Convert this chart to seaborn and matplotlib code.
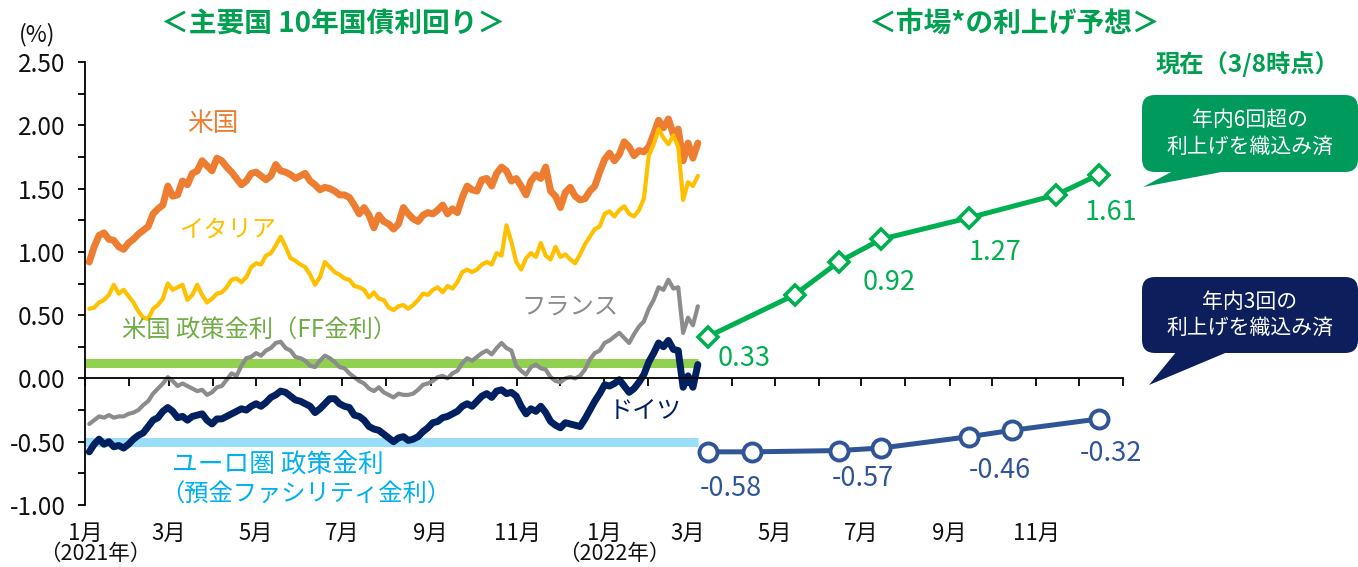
import numpy as np
import pandas as pd
import matplotlib
matplotlib.use("Agg")
import matplotlib.pyplot as plt
import matplotlib.dates as mdates
from matplotlib.ticker import MultipleLocator, FormatStrFormatter
from matplotlib.patches import FancyBboxPatch, Polygon
import seaborn as sns

sns.set_theme(style="white")
plt.rcParams['font.family'] = ['Noto Sans CJK JP', 'DejaVu Sans']

# ------------------------
# データ(2021/1/4 ～ 2022/3/8、ほぼ週2回)
start, end = "2021-01-04", "2022-03-08"

us_10y = [0.92, 1.04, 1.13, 1.15, 1.10, 1.09, 1.04, 1.02, 1.07,
          1.10, 1.14, 1.17, 1.20, 1.30, 1.34, 1.37, 1.52, 1.44,
          1.45, 1.56, 1.53, 1.62, 1.64, 1.72, 1.68, 1.64, 1.74,
          1.72, 1.67, 1.63, 1.58, 1.53, 1.56, 1.62, 1.63,
          1.60, 1.57, 1.60, 1.69, 1.64, 1.63, 1.61, 1.58, 1.60,
          1.62, 1.56, 1.53, 1.49, 1.51, 1.50, 1.48, 1.45,
          1.45, 1.43, 1.37, 1.30, 1.35, 1.29, 1.19, 1.29, 1.24,
          1.22, 1.18, 1.22, 1.35, 1.30, 1.26, 1.24, 1.29, 1.31,
          1.30, 1.33, 1.37, 1.30, 1.34, 1.31, 1.43, 1.52,
          1.49, 1.48, 1.57, 1.58, 1.52, 1.62, 1.67, 1.64, 1.56,
          1.58, 1.52, 1.45, 1.56, 1.61, 1.58, 1.67, 1.48,
          1.44, 1.35, 1.47, 1.51, 1.44, 1.41, 1.42, 1.48, 1.52,
          1.63, 1.73, 1.78, 1.72, 1.77, 1.87, 1.83, 1.76, 1.80,
          1.79, 1.83, 1.93, 2.04, 1.98, 2.05, 1.93, 1.97,
          1.72, 1.86, 1.74, 1.86]

it_10y = [0.55, 0.56, 0.60, 0.62, 0.66, 0.74, 0.67, 0.70, 0.65,
          0.60, 0.53, 0.48, 0.47, 0.55, 0.58, 0.63, 0.75, 0.70,
          0.72, 0.74, 0.62, 0.66, 0.74, 0.66, 0.60, 0.63, 0.67,
          0.68, 0.72, 0.78, 0.79, 0.76, 0.80, 0.88, 0.91,
          0.90, 0.97, 0.99, 1.05, 1.12, 1.04, 0.95, 0.93, 0.90,
          0.88, 0.82, 0.74, 0.80, 0.92, 0.88, 0.84, 0.82,
          0.79, 0.78, 0.73, 0.72, 0.70, 0.64, 0.68, 0.63, 0.62,
          0.56, 0.54, 0.57, 0.58, 0.55, 0.58, 0.62, 0.67, 0.66,
          0.70, 0.72, 0.68, 0.73, 0.71, 0.76, 0.84, 0.86,
          0.84, 0.86, 0.90, 0.92, 0.90, 0.99, 0.97, 1.21, 1.08,
          0.92, 0.86, 0.95, 0.99, 0.96, 1.07, 0.97, 0.94,
          1.04, 0.96, 0.98, 0.94, 0.91, 0.98, 1.06, 1.12, 1.18,
          1.20, 1.30, 1.32, 1.28, 1.33, 1.36, 1.30, 1.28, 1.33,
          1.42, 1.76, 1.85, 1.97, 1.90, 1.85, 1.92, 1.83,
          1.41, 1.55, 1.52, 1.60]

fr_10y = [-0.36, -0.33, -0.30, -0.31, -0.29, -0.31, -0.30, -0.30, -0.28,
          -0.27, -0.25, -0.21, -0.18, -0.12, -0.08, -0.04, 0.01, -0.02,
          -0.06, -0.04, -0.06, -0.08, -0.10, -0.09, -0.13, -0.11, -0.07,
          -0.06, -0.01, 0.04, 0.02, 0.10, 0.16, 0.17, 0.20,
          0.18, 0.22, 0.24, 0.28, 0.29, 0.24, 0.22, 0.17, 0.16,
          0.14, 0.10, 0.09, 0.14, 0.18, 0.16, 0.13, 0.09,
          0.08, 0.04, 0.01, -0.02, -0.04, -0.08, -0.10, -0.07, -0.11,
          -0.13, -0.15, -0.12, -0.13, -0.13, -0.12, -0.09, -0.05, -0.04,
          -0.02, 0.01, 0.02, 0.00, 0.04, 0.06, 0.12, 0.16,
          0.14, 0.17, 0.20, 0.22, 0.19, 0.24, 0.28, 0.24, 0.22,
          0.10, 0.06, 0.03, 0.09, 0.11, 0.08, 0.07, 0.01,
          -0.02, -0.03, 0.00, 0.01, 0.00, 0.02, 0.07, 0.15, 0.20,
          0.22, 0.28, 0.30, 0.33, 0.36, 0.32, 0.28, 0.35, 0.41,
          0.45, 0.55, 0.62, 0.72, 0.70, 0.78, 0.71, 0.72,
          0.36, 0.48, 0.42, 0.57]

de_10y = [-0.58, -0.52, -0.48, -0.52, -0.50, -0.54, -0.53, -0.55, -0.52,
          -0.48, -0.45, -0.43, -0.38, -0.33, -0.31, -0.26, -0.23, -0.26,
          -0.31, -0.30, -0.33, -0.30, -0.29, -0.28, -0.33, -0.36, -0.32,
          -0.32, -0.30, -0.28, -0.26, -0.24, -0.25, -0.22, -0.20,
          -0.22, -0.19, -0.15, -0.13, -0.10, -0.11, -0.14, -0.17, -0.18,
          -0.20, -0.22, -0.27, -0.24, -0.20, -0.16, -0.16, -0.20,
          -0.22, -0.23, -0.29, -0.30, -0.33, -0.38, -0.40, -0.41, -0.44,
          -0.47, -0.50, -0.47, -0.46, -0.49, -0.48, -0.46, -0.42, -0.39,
          -0.35, -0.34, -0.31, -0.30, -0.28, -0.26, -0.22, -0.20,
          -0.22, -0.18, -0.14, -0.12, -0.15, -0.10, -0.09, -0.12, -0.11,
          -0.14, -0.22, -0.28, -0.24, -0.26, -0.22, -0.27, -0.34,
          -0.37, -0.39, -0.35, -0.36, -0.37, -0.38, -0.32, -0.25, -0.18,
          -0.12, -0.05, -0.06, -0.04, -0.01, -0.06, -0.11, -0.08, -0.03,
          0.03, 0.13, 0.20, 0.28, 0.25, 0.30, 0.23, 0.22,
          -0.07, 0.02, -0.07, 0.11]

# 政策金利
policy_dates = ["2021-01-01", "2022-03-08"]
ff_rate = [0.125, 0.125]
ecb_rate = [-0.50, -0.50]

# 市場の利上げ予想(3/8時点)
fed_dates = ["2022-03-15", "2022-05-15", "2022-06-15", "2022-07-15",
             "2022-09-15", "2022-11-15", "2022-12-15"]
fed_path = [0.33, 0.66, 0.92, 1.10, 1.27, 1.45, 1.61]
ecb_dates = ["2022-03-15", "2022-04-15", "2022-06-15", "2022-07-15",
             "2022-09-15", "2022-10-15", "2022-12-15"]
ecb_path = [-0.58, -0.58, -0.57, -0.55, -0.46, -0.41, -0.32]

month_labels = ["1月", "3月", "5月", "7月", "9月", "11月"]

# ------------------------
W, H = 1358, 567
fig = plt.figure(figsize=(W / 100, H / 100), dpi=100)
ax = fig.add_axes([85 / W, (H - 505) / H, (1123 - 85) / W, (505 - 62) / H])


def draw_line(dates, vals, color, lw, **kws):
    d = pd.DataFrame({"date": pd.to_datetime(dates), "v": vals})
    sns.lineplot(data=d, x="date", y="v", ax=ax, color=color, linewidth=lw,
                 estimator=None, solid_joinstyle="round", **kws)


def yields(vals):
    return pd.date_range(start, end, periods=len(vals))


# 政策金利(太い帯)
draw_line(policy_dates, ff_rate, "#92D050", 6.5, solid_capstyle="butt")
draw_line(policy_dates, ecb_rate, "#9ADDF8", 6.5, solid_capstyle="butt")

# 10年国債利回り
draw_line(yields(fr_10y), fr_10y, "#8C8C8C", 3.0)
draw_line(yields(de_10y), de_10y, "#002060", 5.0)
draw_line(yields(us_10y), us_10y, "#ED7D31", 5.0)
draw_line(yields(it_10y), it_10y, "#FFC000", 3.0)

# 利上げ予想
draw_line(fed_dates, fed_path, "#00B050", 3.6, marker="D", markersize=10,
          markerfacecolor="white", markeredgecolor="#00B050", markeredgewidth=2.6)
draw_line(ecb_dates, ecb_path, "#2F5597", 3.6, marker="o", markersize=13,
          markerfacecolor="white", markeredgecolor="#2F5597", markeredgewidth=2.8)

# 数値ラベル
for i, dx, dy in [(0, 36, -22), (2, 51, -21), (4, 26, -35), (6, 12, -38)]:
    ax.annotate(f"{fed_path[i]:.2f}", (pd.Timestamp(fed_dates[i]), fed_path[i]),
                xytext=(dx, dy), textcoords="offset pixels", ha="center", va="center",
                fontsize=19.5, color="#00B050")
for i, dx, dy in [(0, 23, -37), (2, 24, -28), (4, 30, -34), (6, 12, -35)]:
    ax.annotate(f"{ecb_path[i]:.2f}", (pd.Timestamp(ecb_dates[i]), ecb_path[i]),
                xytext=(dx, dy), textcoords="offset pixels", ha="center", va="center",
                fontsize=19.5, color="#2F5597")

# 軸
ax.set_xlim(pd.Timestamp("2021-01-01"), pd.Timestamp("2023-01-01"))
ax.set_ylim(-1, 2.5)
ax.set_xlabel("")
ax.set_ylabel("")
ax.set_yticks(np.arange(-1, 2.51, 0.5))
ax.yaxis.set_minor_locator(MultipleLocator(0.25))
ax.yaxis.set_major_formatter(FormatStrFormatter("%.2f"))
ax.xaxis.set_major_locator(mdates.MonthLocator())
ax.spines["bottom"].set_position(("data", 0))
for s in ["top", "right"]:
    ax.spines[s].set_visible(False)
for s in ["left", "bottom"]:
    ax.spines[s].set_color("black")
    ax.spines[s].set_linewidth(1.3)
ax.tick_params(axis="y", which="both", left=True, direction="out", length=5,
               width=1.3, color="black", labelsize=17.5, pad=9, labelcolor="#111111")
ax.tick_params(axis="x", which="major", bottom=True, direction="out", length=6,
               width=1.3, color="black", labelbottom=False)
ax.set_facecolor("none")

# 月ラベル
xt = ax.get_xaxis_transform()
for yr in [2021, 2022]:
    for k, lab in enumerate(month_labels):
        ax.text(pd.Timestamp(f"{yr}-{2 * k + 1:02d}-01"), -0.063, lab, transform=xt,
                ha="center", va="center", fontsize=16, color="#111111")
    ax.text(pd.Timestamp(f"{yr}-01-08"), -0.111, f"（{yr}年）", transform=xt,
            ha="center", va="center", fontsize=15.5, color="#111111")

# ------------------------
# 注記(ピクセル座標のオーバーレイ)
ov = fig.add_axes([0, 0, 1, 1])
ov.set_xlim(0, W)
ov.set_ylim(H, 0)
ov.axis("off")

ov.text(37, 35, "(%)", ha="center", va="center", fontsize=16.5, color="#111111")
ov.text(333, 25, "＜主要国 10年国債利回り＞", ha="center", va="center",
        fontsize=20, fontweight="bold", color="#00A050")
ov.text(1014, 23, "＜市場*の利上げ予想＞", ha="center", va="center",
        fontsize=20, fontweight="bold", color="#00A050")
ov.text(1247, 64, "現在（3/8時点）", ha="center", va="center",
        fontsize=17.5, fontweight="bold", color="#00A050")

ov.text(213, 124, "米国", ha="center", va="center", fontsize=18.5, color="#ED7D31")
ov.text(228, 230, "イタリア", ha="center", va="center", fontsize=17.5, color="#FFC000")
ov.text(570, 307, "フランス", ha="center", va="center", fontsize=17.5, color="#8C8C8C")
ov.text(260, 331, "米国 政策金利（FF金利）", ha="center", va="center",
        fontsize=17.5, color="#70AD47")
ov.text(645, 411, "ドイツ", ha="center", va="center", fontsize=17.5, color="#002060")
ov.text(278, 466, "ユーロ圏 政策金利", ha="center", va="center",
        fontsize=18.5, color="#00B0F0")
ov.text(306, 495, "（預金ファシリティ金利）", ha="center", va="center",
        fontsize=17.5, color="#00B0F0")


def callout(x0, y0, x1, y1, tail, color, lines):
    ov.add_patch(FancyBboxPatch((x0, y0), x1 - x0, y1 - y0,
                                boxstyle="round,pad=0,rounding_size=13",
                                facecolor=color, edgecolor="none"))
    ov.add_patch(Polygon(tail, closed=True, facecolor=color, edgecolor="none"))
    ov.text((x0 + x1) / 2, (y0 + y1) / 2, lines, ha="center", va="center",
            fontsize=15, color="white", linespacing=1.25)


callout(1142, 95, 1358, 172, [(1175, 170), (1232, 170), (1143, 187)],
        "#009A5C", "年内6回超の\n利上げを織込み済")
callout(1142, 277, 1358, 353, [(1177, 351), (1230, 351), (1149, 385)],
        "#0C1F5C", "年内3回の\n利上げを織込み済")

fig.savefig("out.png", dpi=100)
